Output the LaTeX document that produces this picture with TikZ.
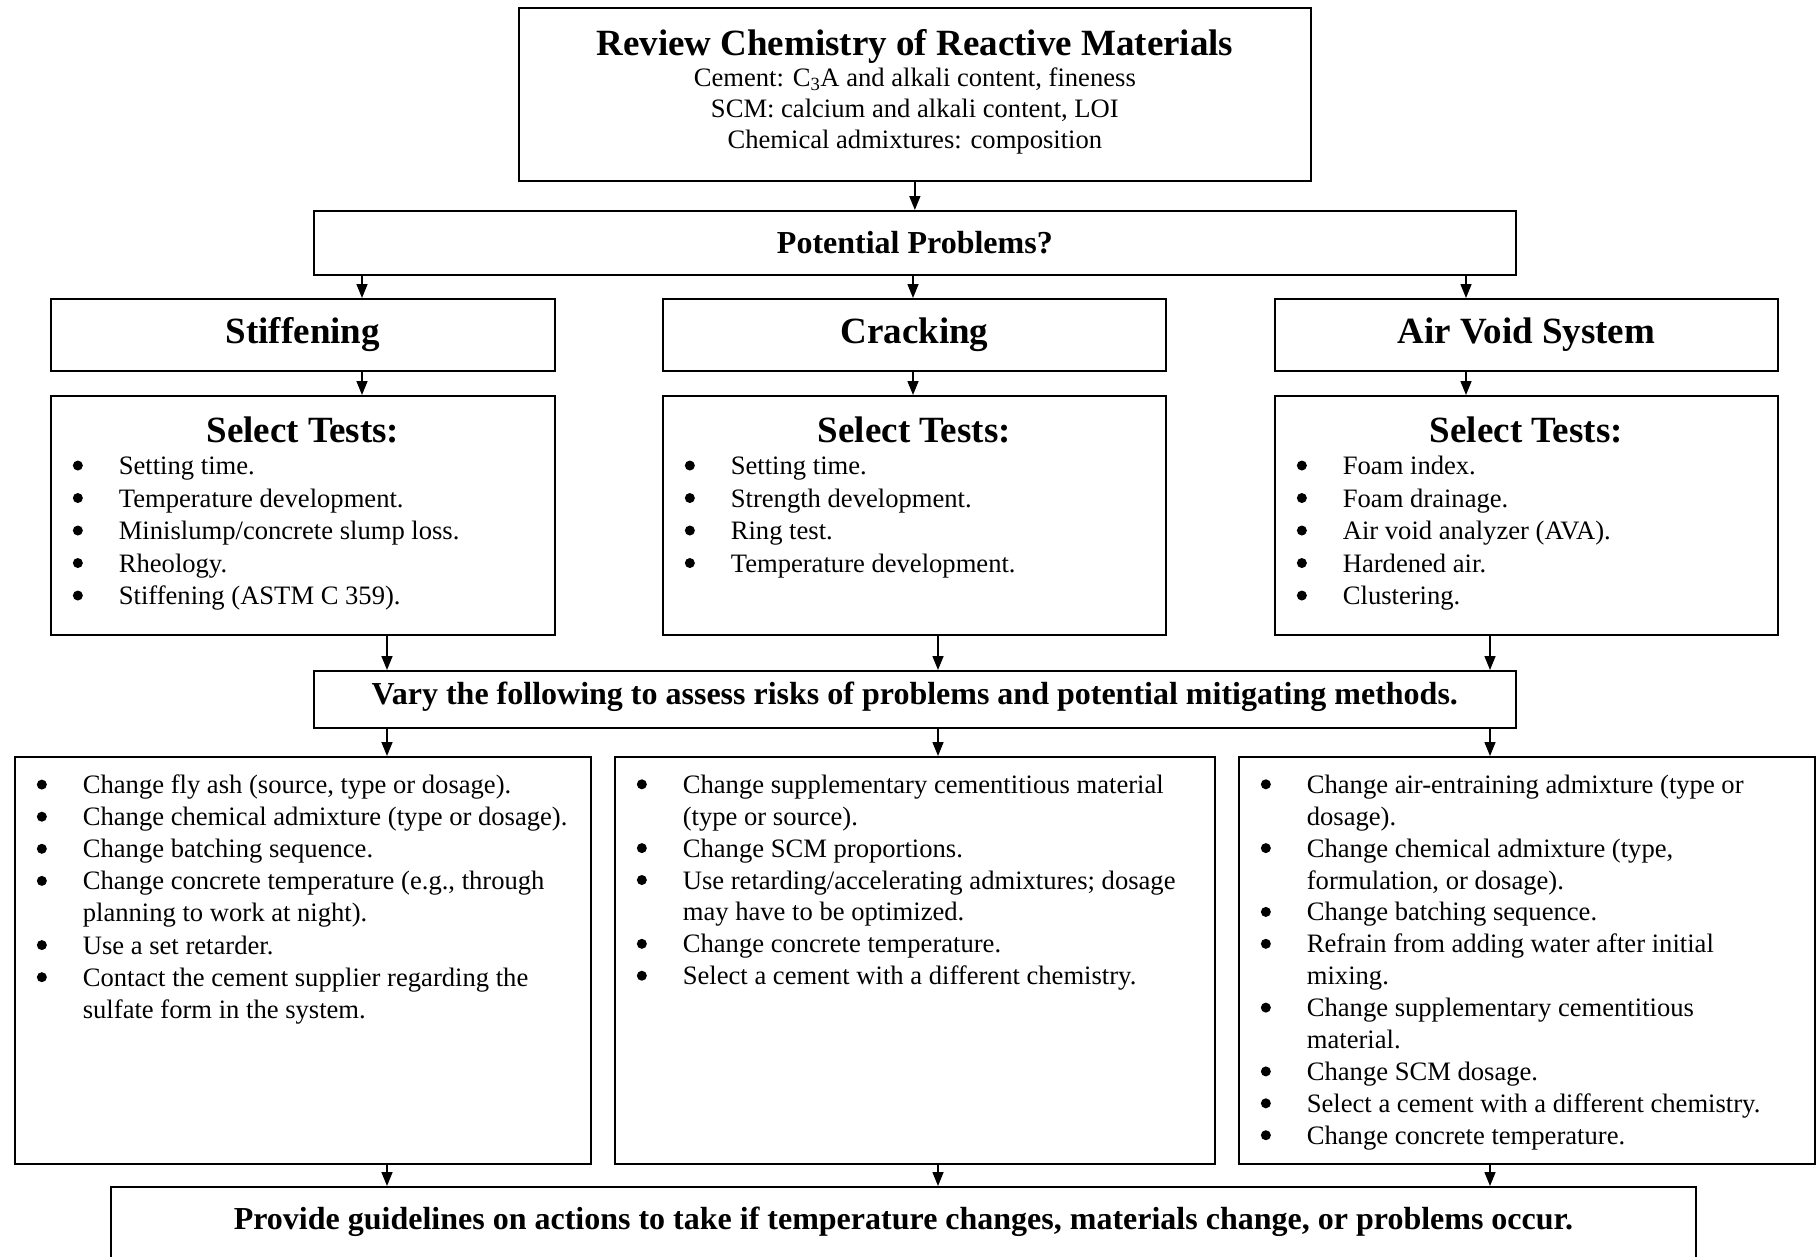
\documentclass[tikz,border=0pt]{standalone}
\usepackage{fontspec}
\setmainfont{Liberation Serif}
\usetikzlibrary{arrows.meta}
\tikzset{
>={Triangle[length=14pt, width=11pt]}, % solid arrow heads
box/.style={draw, line width=1.7pt, rectangle, inner sep=0pt, anchor=north west}, % every frame
link/.style={->, line width=1.5pt}, % connectors between frames
}
\newcommand{\bodyfont}[1][32.1]{\fontsize{26.6}{#1}\selectfont}
\newcommand{\midfont}{\fontsize{32}{38}\selectfont\bfseries}
\newcommand{\bigfont}{\fontsize{37}{44}\selectfont\bfseries}
\newcommand{\blt}{\par\noindent\hangindent=68pt\hangafter=1\makebox[68pt][l]{\hspace{22pt}\raisebox{4pt}{\tikz\fill (5pt,5pt) circle (5pt);}}\ignorespaces}
\newcommand{\frm}[4]{\parbox[c][#2][t]{#1}{\vspace*{#3}#4}}

\begin{document}
\begin{tikzpicture}[x=1pt, y=-1pt]
    \useasboundingbox (0,0) rectangle (1820,1256);
    \clip (0,0) rectangle (1820,1256);
    \coordinate (c1) at (362,0);
    \coordinate (c2) at (913,0);
    \coordinate (c3) at (1466,0);
    \coordinate (d1) at (387,0);
    \coordinate (d2) at (938,0);
    \coordinate (d3) at (1490,0);

    \node[box] (rev) at (518,7) {\frm{792pt}{173pt}{21.5pt}{\centering
        {\bigfont Review Chemistry of Reactive Materials\par}
        \fontsize{26.6}{31}\selectfont Cement: C\textsubscript{3}A and alkali content, fineness\par
        SCM: calcium and alkali content, LOI\par
        Chemical admixtures: composition\par}};
    \node[box, minimum width=1202pt, minimum height=64pt] (prob) at (313,210) {\midfont Potential Problems?};

    \node[box, minimum width=504pt, minimum height=72pt] (stf) at (50,298) {\bigfont Stiffening};
    \node[box, minimum width=503pt, minimum height=72pt] (crk) at (662,298) {\bigfont Cracking};
    \node[box, minimum width=503pt, minimum height=72pt] (air) at (1274,298) {\bigfont Air Void System};

    \node[box] (tst1) at (50,395) {\frm{504pt}{239pt}{20.5pt}{{\centering\bigfont Select Tests:\par}
        \bodyfont[32.5]\raggedright
        \blt Setting time.
        \blt Temperature development.
        \blt Minislump/concrete slump loss.
        \blt Rheology.
        \blt Stiffening (ASTM C 359).\par}};
    \node[box] (tst2) at (662,395) {\frm{503pt}{239pt}{20.5pt}{{\centering\bigfont Select Tests:\par}
        \bodyfont[32.5]\raggedright
        \blt Setting time.
        \blt Strength development.
        \blt Ring test.
        \blt Temperature development.\par}};
    \node[box] (tst3) at (1274,395) {\frm{503pt}{239pt}{20.5pt}{{\centering\bigfont Select Tests:\par}
        \bodyfont[32.5]\raggedright
        \blt Foam index.
        \blt Foam drainage.
        \blt Air void analyzer (AVA).
        \blt Hardened air.
        \blt Clustering.\par}};

    \node[box, minimum width=1202pt, minimum height=57pt] (vary) at (313,670) {\raisebox{-5pt}[0pt][0pt]{\midfont Vary the following to assess risks of problems and potential mitigating methods.}};

    \node[box] (act1) at (14,756) {\frm{576pt}{407pt}{18pt}{\bodyfont\raggedright
        \blt Change fly ash (source, type or dosage).
        \blt Change chemical admixture (type or dosage).
        \blt Change batching sequence.
        \blt Change concrete temperature (e.g., through\newline planning to work at night).
        \blt Use a set retarder.
        \blt Contact the cement supplier regarding the\newline sulfate form in the system.\par}};
    \node[box] (act2) at (614,756) {\frm{600pt}{407pt}{18pt}{\bodyfont[31.9]\raggedright
        \blt Change supplementary cementitious material\newline (type or source).
        \blt Change SCM proportions.
        \blt Use retarding/accelerating admixtures; dosage\newline may have to be optimized.
        \blt Change concrete temperature.
        \blt Select a cement with a different chemistry.\par}};
    \node[box] (act3) at (1238,756) {\frm{576pt}{407pt}{18pt}{\bodyfont[31.9]\raggedright
        \blt Change air-entraining admixture (type or\newline dosage).
        \blt Change chemical admixture (type,\newline formulation, or dosage).
        \blt Change batching sequence.
        \blt Refrain from adding water after initial\newline mixing.
        \blt Change supplementary cementitious\newline material.
        \blt Change SCM dosage.
        \blt Select a cement with a different chemistry.
        \blt Change concrete temperature.\par}};

    \node[box] (guide) at (110,1186) {\frm{1585pt}{120pt}{20pt}{\centering\midfont
        Provide guidelines on actions to take if temperature changes, materials change, or problems occur.\par}};

    \draw[link] (rev) -- (prob);
    \draw[link] (prob.south -| c1) -- (stf.north -| c1);
    \draw[link] (prob.south -| c2) -- (crk.north -| c2);
    \draw[link] (prob.south -| c3) -- (air.north -| c3);
    \draw[link] (stf.south -| c1) -- (tst1.north -| c1);
    \draw[link] (crk.south -| c2) -- (tst2.north -| c2);
    \draw[link] (air.south -| c3) -- (tst3.north -| c3);
    \draw[link] (tst1.south -| d1) -- (vary.north -| d1);
    \draw[link] (tst2.south -| d2) -- (vary.north -| d2);
    \draw[link] (tst3.south -| d3) -- (vary.north -| d3);
    \draw[link] (vary.south -| d1) -- (act1.north -| d1);
    \draw[link] (vary.south -| d2) -- (act2.north -| d2);
    \draw[link] (vary.south -| d3) -- (act3.north -| d3);
    \draw[link] (act1.south -| d1) -- (guide.north -| d1);
    \draw[link] (act2.south -| d2) -- (guide.north -| d2);
    \draw[link] (act3.south -| d3) -- (guide.north -| d3);
\end{tikzpicture}
\end{document}
